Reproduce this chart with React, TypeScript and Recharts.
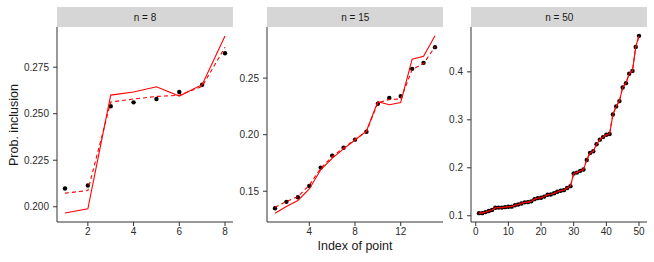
import React from "react";
import { ComposedChart, Line, XAxis, YAxis } from "recharts";

// n = 8
const idx8 = [1, 2, 3, 4, 5, 6, 7, 8];
const pts8 = [0.2098, 0.2114, 0.254, 0.2561, 0.2579, 0.2617, 0.2656, 0.2825];
const solid8 = [0.1966, 0.1989, 0.26, 0.2617, 0.2645, 0.2595, 0.2656, 0.2918];
const dashed8 = [0.2073, 0.2087, 0.2563, 0.2579, 0.2593, 0.2599, 0.2647, 0.2857];

// n = 15
const idx15 = [1, 2, 3, 4, 5, 6, 7, 8, 9, 10, 11, 12, 13, 14, 15];
const pts15 = [
  0.135, 0.1406, 0.1447, 0.1547, 0.1709, 0.1815, 0.1885, 0.1956, 0.2026,
  0.2274, 0.2324, 0.2341, 0.2582, 0.2635, 0.2774,
];
const solid15 = [
  0.1306, 0.1365, 0.1418, 0.152, 0.169, 0.179, 0.1874, 0.1953, 0.2032,
  0.2291, 0.2265, 0.2285, 0.2668, 0.2694, 0.2874,
];
const dashed15 = [
  0.1359, 0.1409, 0.1453, 0.1553, 0.1703, 0.1806, 0.1882, 0.1959, 0.2026,
  0.2282, 0.2312, 0.2315, 0.2576, 0.2629, 0.2776,
];

// n = 50
const idx50 = Array.from({ length: 50 }, (_, i) => i + 1);
const pts50 = [
  0.1055, 0.1055, 0.1076, 0.11, 0.112, 0.1166, 0.117, 0.117, 0.118, 0.1187,
  0.119, 0.122, 0.1236, 0.1256, 0.128, 0.1284, 0.13, 0.1346, 0.1367, 0.1374,
  0.14, 0.1437, 0.1444, 0.147, 0.15, 0.152, 0.1534, 0.158, 0.1617, 0.188,
  0.19, 0.1936, 0.1963, 0.2164, 0.231, 0.2345, 0.249, 0.2587, 0.264, 0.269,
  0.2705, 0.311, 0.328, 0.339, 0.3675, 0.3765, 0.396, 0.402, 0.452, 0.475,
];
const solid50 = pts50;
const dashed50 = pts50;

const FONT = "'Liberation Sans', Arial, sans-serif";
const TICK = { fontSize: 10, fill: "#2b2b2b", fontFamily: FONT };
const AXIS = { stroke: "#333333", strokeWidth: 1 };

const PLOT_W = 176;
const PLOT_TOP = 27;
const PLOT_BOTTOM = 222;
const CH_W = 50 + PLOT_W;
const CH_H = PLOT_BOTTOM - PLOT_TOP + 20;

function Panel(props: {
  label: string;
  axisX: number;
  idx: number[];
  pts: number[];
  solid: number[];
  dashed: number[];
  xDomain: [number, number];
  xTicks: number[];
  yDomain: [number, number];
  yTicks: number[];
  fmt: (v: number) => string;
}) {
  const data = props.idx.map((x, i) => ({
    x,
    p: props.pts[i],
    s: props.solid[i],
    d: props.dashed[i],
  }));
  return (
    <>
      <div
        style={{
          position: "absolute",
          left: props.axisX,
          top: 7,
          width: PLOT_W,
          height: PLOT_TOP - 7,
          background: "#D6D6D6",
          fontFamily: FONT,
          fontSize: 10,
          color: "#1a1a1a",
          display: "flex",
          alignItems: "center",
          justifyContent: "center",
        }}
      >
        {props.label}
      </div>
      {/* axes + points */}
      <div style={{ position: "absolute", left: props.axisX - 50, top: PLOT_TOP }}>
        <ComposedChart
          width={CH_W}
          height={CH_H}
          data={data}
          margin={{ top: 0, right: 0, bottom: 0, left: 0 }}
        >
          <XAxis
            type="number"
            dataKey="x"
            domain={props.xDomain}
            ticks={props.xTicks}
            allowDataOverflow
            height={20}
            tick={TICK}
            tickSize={4}
            tickMargin={2}
            axisLine={AXIS}
            tickLine={AXIS}
          />
          <YAxis
            type="number"
            domain={props.yDomain}
            ticks={props.yTicks}
            allowDataOverflow
            width={50}
            tick={TICK}
            tickSize={4}
            tickMargin={4}
            tickFormatter={props.fmt}
            axisLine={AXIS}
            tickLine={AXIS}
          />
          <Line
            dataKey="p"
            stroke="none"
            isAnimationActive={false}
            dot={{ r: 2.2, fill: "#000000", stroke: "none" }}
            activeDot={false}
          />
        </ComposedChart>
      </div>
      {/* red lines on top */}
      <div style={{ position: "absolute", left: props.axisX - 50, top: PLOT_TOP }}>
        <ComposedChart
          width={CH_W}
          height={CH_H}
          data={data}
          margin={{ top: 0, right: 0, bottom: 20, left: 50 }}
        >
          <XAxis type="number" dataKey="x" domain={props.xDomain} allowDataOverflow hide />
          <YAxis type="number" domain={props.yDomain} allowDataOverflow hide />
          <Line
            dataKey="s"
            stroke="#FF0000"
            strokeWidth={1.1}
            dot={false}
            activeDot={false}
            isAnimationActive={false}
          />
          <Line
            dataKey="d"
            stroke="#FF0000"
            strokeWidth={1.1}
            strokeDasharray="4 3"
            dot={false}
            activeDot={false}
            isAnimationActive={false}
          />
        </ComposedChart>
      </div>
    </>
  );
}

export default function App() {
  return (
    <div
      style={{
        position: "absolute",
        left: 0,
        top: 0,
        width: 654,
        height: 262,
        background: "#ffffff",
        fontFamily: FONT,
      }}
    >
      <Panel
        label="n = 8"
        axisX={57}
        idx={idx8}
        pts={pts8}
        solid={solid8}
        dashed={dashed8}
        xDomain={[0.65, 8.35]}
        xTicks={[2, 4, 6, 8]}
        yDomain={[0.1918, 0.2966]}
        yTicks={[0.2, 0.225, 0.25, 0.275]}
        fmt={(v) => v.toFixed(3)}
      />
      <Panel
        label="n = 15"
        axisX={267.3}
        idx={idx15}
        pts={pts15}
        solid={solid15}
        dashed={dashed15}
        xDomain={[0.3, 15.7]}
        xTicks={[4, 8, 12]}
        yDomain={[0.1228, 0.2952]}
        yTicks={[0.15, 0.2, 0.25]}
        fmt={(v) => v.toFixed(2)}
      />
      <Panel
        label="n = 50"
        axisX={471.3}
        idx={idx50}
        pts={pts50}
        solid={solid50}
        dashed={dashed50}
        xDomain={[-1.45, 52.45]}
        xTicks={[0, 10, 20, 30, 40, 50]}
        yDomain={[0.087, 0.4935]}
        yTicks={[0.1, 0.2, 0.3, 0.4]}
        fmt={(v) => v.toFixed(1)}
      />
      <div
        style={{
          position: "absolute",
          left: 14 - 60,
          top: 124.5 - 8,
          width: 120,
          height: 16,
          lineHeight: "16px",
          textAlign: "center",
          fontSize: 12.5,
          color: "#1a1a1a",
          transform: "rotate(-90deg)",
          whiteSpace: "nowrap",
        }}
      >
        Prob. inclusion
      </div>
      <div
        style={{
          position: "absolute",
          left: 355 - 60,
          top: 238,
          width: 120,
          height: 16,
          lineHeight: "16px",
          textAlign: "center",
          fontSize: 12.5,
          color: "#1a1a1a",
          whiteSpace: "nowrap",
        }}
      >
        Index of point
      </div>
    </div>
  );
}
